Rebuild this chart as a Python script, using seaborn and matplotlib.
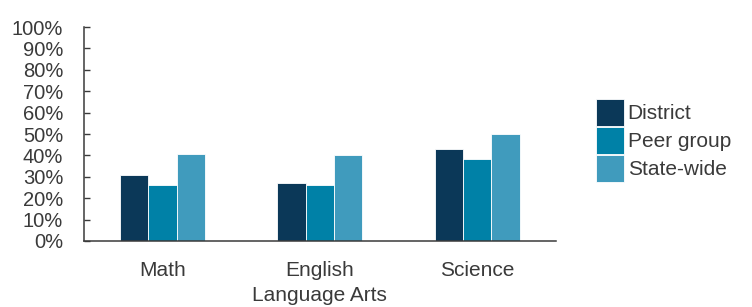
import pandas as pd
import matplotlib
matplotlib.use('Agg')
import matplotlib.pyplot as plt
import seaborn as sns

subjects = ['Math', 'English\nLanguage Arts', 'Science']
groups = ['District', 'Peer group', 'State-wide']
district = [31, 27, 43]
peer_group = [26, 26, 38.5]
state_wide = [40.5, 40, 50]
y_ticks = list(range(0, 101, 10))

colors = ['#0b3858', '#0081a7', '#409bbd']

df = pd.DataFrame({
    'Subject': subjects * 3,
    'Group': [g for g in groups for _ in subjects],
    'Value': district + peer_group + state_wide,
})

sns.set_theme(style='white')
plt.rcParams['font.family'] = ['Liberation Sans', 'DejaVu Sans']
text_color = '#3a3a3a'

fig = plt.figure(figsize=(7.52, 3.07), dpi=100)
ax = fig.add_axes([0.1117, 0.215, 0.739 - 0.1117, 0.912 - 0.215])

sns.barplot(data=df, x='Subject', y='Value', hue='Group', palette=colors,
            saturation=1, width=0.54, edgecolor='white', linewidth=0.6,
            ax=ax, legend=True)

ax.set_xlim(-0.5, 2.5)
ax.set_ylim(0, 100)
ax.set_yticks(y_ticks)
ax.set_yticklabels([f'{t}%' for t in y_ticks], fontsize=14.5, color=text_color)
ax.tick_params(axis='y', direction='in', length=4.5, width=1, color=text_color, pad=15, left=True)
ax.tick_params(axis='x', length=0, pad=14.5, labelsize=15, labelcolor=text_color)
for lbl in ax.get_xticklabels():
    lbl.set_linespacing(1.4)
ax.set_xlabel('')
ax.set_ylabel('')
sns.despine(ax=ax)
for s in ['left', 'bottom']:
    ax.spines[s].set_color(text_color)
    ax.spines[s].set_linewidth(1.1)

handles, labels = ax.get_legend_handles_labels()
ax.get_legend().remove()
leg = fig.legend(handles, labels, loc='upper left', bbox_to_anchor=(0.793, 0.6775),
                 frameon=False, fontsize=15, handlelength=1.35, handleheight=1.617,
                 labelspacing=0.05, handletextpad=0.15, borderpad=0, borderaxespad=0)
for t in leg.get_texts():
    t.set_color(text_color)

fig.savefig('out.png', dpi=100)
